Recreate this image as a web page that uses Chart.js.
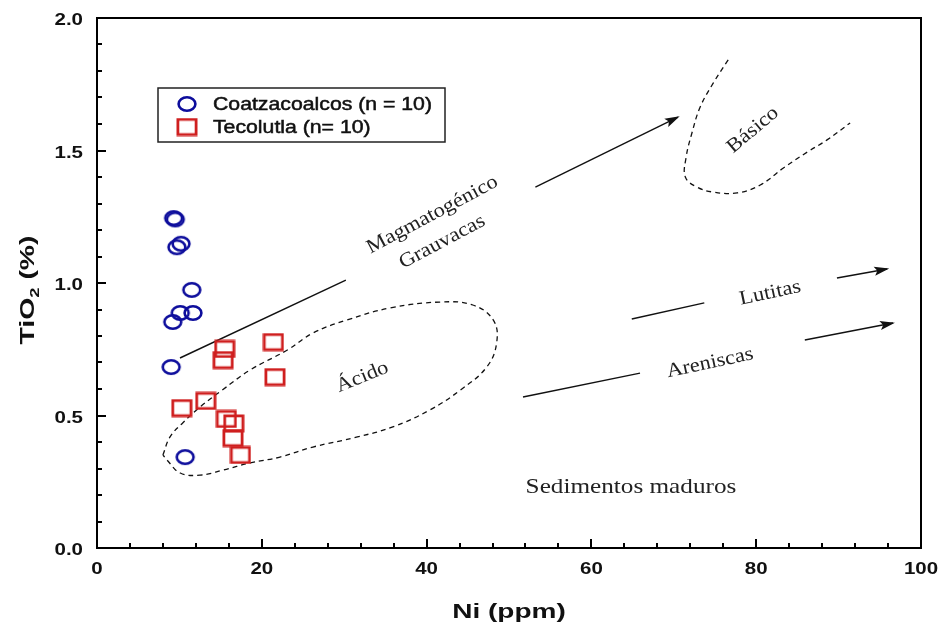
<!DOCTYPE html>
<html>
<head>
<meta charset="utf-8">
<script src="https://cdn.jsdelivr.net/npm/chart.js@4.4.0/dist/chart.umd.min.js"></script>
<style>
html,body{margin:0;padding:0;background:#fff;}
#wrap{width:950px;height:624px;position:relative;}
</style>
</head>
<body>
<div id="wrap"><canvas id="c" width="950" height="624"></canvas></div>
<script>
// ---- Data ----
const seriesNames = ['Coatzacoalcos (n = 10)', 'Tecolutla (n= 10)'];
const coatzNi  = [9.3, 9.5, 10.2, 9.7, 11.5, 11.65, 10.1, 9.2, 9.0, 10.7];
const coatzTi  = [1.245, 1.240, 1.148, 1.135, 0.974, 0.887, 0.887, 0.853, 0.683, 0.343];
const tecoNi   = [15.5, 15.3, 21.4, 21.6, 10.3, 13.2, 15.7, 16.6, 16.5, 17.4];
const tecoTi   = [0.751, 0.709, 0.777, 0.645, 0.528, 0.555, 0.487, 0.470, 0.415, 0.351];

const xTickValues = [0, 20, 40, 60, 80, 100];
const xTickLabels = ['0', '20', '40', '60', '80', '100'];
const yTickValues = [0, 0.5, 1.0, 1.5, 2.0];
const yTickLabels = ['0.0', '0.5', '1.0', '1.5', '2.0'];
const xMinorStep = 4;
const yMinorStep = 0.1;
const xTitle = 'Ni (ppm)';
const yTitleParts = ['TiO', '2', ' (%)'];

// Diagram field boundaries (data coordinates: Ni, TiO2)
const acidoNi = [8.0, 8.86, 10.4, 12.5, 15.2, 18.6, 23.1, 26.2, 30.3, 35.6, 41.6, 45.6, 48.1, 48.5, 47.3, 44.1, 40.4, 35.9, 31.6, 26.2, 22.2, 18.6, 15.3, 12.5, 10.1, 8.5, 8.0];
const acidoTi = [0.351, 0.419, 0.472, 0.532, 0.596, 0.672, 0.747, 0.811, 0.860, 0.906, 0.928, 0.917, 0.860, 0.774, 0.683, 0.596, 0.521, 0.457, 0.419, 0.381, 0.343, 0.321, 0.294, 0.275, 0.283, 0.332, 0.351];
const basicoNi = [76.6, 74.8, 73.2, 72.2, 71.5, 71.4, 72.8, 74.8, 77.7, 80.5, 83.3, 86.2, 88.6, 91.4];
const basicoTi = [1.842, 1.755, 1.664, 1.566, 1.475, 1.400, 1.362, 1.343, 1.340, 1.370, 1.434, 1.494, 1.540, 1.604];

// Trend lines
const trendNames = ['magma1', 'magma2', 'lut1', 'lut2', 'are1', 'are2'];
const trendNi0 = [10.07, 53.2, 64.9, 89.8, 51.7, 85.9];
const trendTi0 = [0.717, 1.362, 0.864, 1.019, 0.570, 0.785];
const trendNi1 = [30.2, 70.5, 73.7, 95.9, 65.9, 96.6];
const trendTi1 = [1.011, 1.626, 0.925, 1.053, 0.660, 0.849];
const trendArrow = [false, true, false, true, false, true];

// Field labels
const labelTexts = ['Magmatogénico', 'Grauvacas', 'Básico', 'Lutitas', 'Areniscas', 'Ácido', 'Sedimentos maduros'];
const labelNi    = [40.7, 41.9, 79.6, 81.7, 74.4, 32.2, 64.8];
const labelTi    = [1.257, 1.155, 1.577, 0.962, 0.698, 0.645, 0.23];
const labelAngle = [-28, -28, -40, -12, -12, -22, 0];
const labelSize  = [20, 20, 20, 20, 20, 20, 21];
const labelStretch = [1.12, 1.12, 1.12, 1.12, 1.12, 1.12, 1.2];

// ---- Marker images ----
function makeCircle() {
  const c = document.createElement('canvas'); c.width = 22; c.height = 18;
  const g = c.getContext('2d');
  g.strokeStyle = '#0d0d9c'; g.lineWidth = 2.6;
  g.beginPath(); g.ellipse(11, 9, 8.4, 6.8, 0, 0, Math.PI * 2); g.stroke();
  return c;
}
function makeSquare() {
  const c = document.createElement('canvas'); c.width = 22; c.height = 19;
  const g = c.getContext('2d');
  g.strokeStyle = '#cf1f1f'; g.lineWidth = 2.8;
  g.strokeRect(1.9, 1.9, 18.2, 15.2);
  return c;
}
const circleImg = makeCircle();
const squareImg = makeSquare();

function pts(xs, ys) { return xs.map((x, i) => ({x: x, y: ys[i]})); }

const datasets = [
  {label: seriesNames[0], data: pts(coatzNi, coatzTi), pointStyle: circleImg, pointRadius: 9, showLine: false, order: 1},
  {label: seriesNames[1], data: pts(tecoNi, tecoTi), pointStyle: squareImg, pointRadius: 9, showLine: false, order: 0},
  {label: 'Ácido', data: pts(acidoNi, acidoTi), showLine: true, pointRadius: 0, borderColor: '#111', borderWidth: 1.3, borderDash: [5, 4], tension: 0.4, fill: false, order: 5},
  {label: 'Básico', data: pts(basicoNi, basicoTi), showLine: true, pointRadius: 0, borderColor: '#111', borderWidth: 1.3, borderDash: [5, 4], tension: 0.4, fill: false, order: 5}
];
trendNames.forEach((n, i) => {
  datasets.push({label: n, data: [{x: trendNi0[i], y: trendTi0[i]}, {x: trendNi1[i], y: trendTi1[i]}], showLine: true, pointRadius: 0, borderColor: '#111', borderWidth: 1.4, fill: false, order: 5});
});

const FONT = 'Arial, "Liberation Sans", sans-serif';
const SERIF = '"Times New Roman", "Liberation Serif", serif';

function stretchText(ctx, text, x, y, sx, rot, align) {
  ctx.save(); ctx.translate(x, y); if (rot) ctx.rotate(rot); ctx.scale(sx, 1);
  ctx.textAlign = align || 'center';
  ctx.fillText(text, 0, 0);
  ctx.restore();
}

const decorPlugin = {
  id: 'decor',
  afterDatasetsDraw(chart) {
    const ctx = chart.ctx, xs = chart.scales.x, ys = chart.scales.y, a = chart.chartArea;
    ctx.save();
    // arrowheads
    ctx.fillStyle = '#111';
    trendNames.forEach((n, i) => {
      if (!trendArrow[i]) return;
      const x0 = xs.getPixelForValue(trendNi0[i]), y0 = ys.getPixelForValue(trendTi0[i]);
      const x1 = xs.getPixelForValue(trendNi1[i]), y1 = ys.getPixelForValue(trendTi1[i]);
      const ang = Math.atan2(y1 - y0, x1 - x0);
      ctx.save(); ctx.translate(x1, y1); ctx.rotate(ang);
      ctx.beginPath(); ctx.moveTo(2, 0); ctx.lineTo(-13, -4.5); ctx.lineTo(-10, 0); ctx.lineTo(-13, 4.5); ctx.closePath(); ctx.fill();
      ctx.restore();
    });
    // field labels
    ctx.fillStyle = '#222';
    ctx.textBaseline = 'middle';
    labelTexts.forEach((t, i) => {
      ctx.font = labelSize[i] + 'px ' + SERIF;
      stretchText(ctx, t, xs.getPixelForValue(labelNi[i]), ys.getPixelForValue(labelTi[i]), labelStretch[i], labelAngle[i] * Math.PI / 180);
    });
    // inward ticks
    ctx.strokeStyle = '#000'; ctx.lineWidth = 2;
    ctx.beginPath();
    for (let k = 0; k * xMinorStep <= 100 + 1e-9; k++) {
      const v = k * xMinorStep;
      const px = Math.round(xs.getPixelForValue(v));
      const major = xTickValues.some(t => Math.abs(t - v) < 1e-6);
      ctx.moveTo(px, a.bottom); ctx.lineTo(px, a.bottom - (major ? 9 : 5));
    }
    for (let k = 0; k <= 20; k++) {
      const v = k * yMinorStep;
      const py = Math.round(ys.getPixelForValue(v));
      const major = yTickValues.some(t => Math.abs(t - v) < 1e-6);
      ctx.moveTo(a.left, py); ctx.lineTo(a.left + (major ? 9 : 5), py);
    }
    ctx.stroke();
    // frame
    ctx.lineWidth = 2;
    ctx.strokeRect(a.left, a.top, a.right - a.left, a.bottom - a.top);
    // tick labels
    ctx.fillStyle = '#111';
    ctx.font = 'bold 16px ' + FONT;
    ctx.textBaseline = 'alphabetic';
    xTickValues.forEach((v, i) => stretchText(ctx, xTickLabels[i], xs.getPixelForValue(v), a.bottom + 26, 1.28, 0, 'center'));
    yTickValues.forEach((v, i) => stretchText(ctx, yTickLabels[i], a.left - 14, ys.getPixelForValue(v) + 7, 1.28, 0, 'right'));
    // axis titles
    ctx.font = 'bold 20px ' + FONT;
    stretchText(ctx, xTitle, (a.left + a.right) / 2, 618, 1.4, 0, 'center');
    // y title with subscript
    ctx.save();
    ctx.translate(34, 290); ctx.rotate(-Math.PI / 2); ctx.scale(1.42, 1);
    ctx.font = 'bold 20px ' + FONT;
    const w0 = ctx.measureText(yTitleParts[0]).width;
    const w2 = ctx.measureText(yTitleParts[2]).width;
    ctx.font = 'bold 13px ' + FONT;
    const w1 = ctx.measureText(yTitleParts[1]).width;
    let sx = -(w0 + w1 + w2) / 2;
    ctx.textAlign = 'left';
    ctx.font = 'bold 20px ' + FONT;
    ctx.fillText(yTitleParts[0], sx, 0);
    ctx.font = 'bold 13px ' + FONT;
    ctx.fillText(yTitleParts[1], sx + w0, 5);
    ctx.font = 'bold 20px ' + FONT;
    ctx.fillText(yTitleParts[2], sx + w0 + w1, 0);
    ctx.restore();
    // legend
    const lx = a.left + 61, ly = a.top + 70, lw = 287, lh = 54;
    ctx.lineWidth = 1.5; ctx.strokeStyle = '#222';
    ctx.strokeRect(lx, ly, lw, lh);
    ctx.font = '18px ' + FONT; ctx.fillStyle = '#111'; ctx.strokeStyle = '#111'; ctx.lineWidth = 0.5;
    ctx.textAlign = 'left'; ctx.textBaseline = 'middle';
    const imgs = [circleImg, squareImg];
    [0, 1].forEach(i => {
      const cy = ly + 16 + i * 23;
      ctx.drawImage(imgs[i], lx + 29 - imgs[i].width / 2, cy - imgs[i].height / 2);
      ctx.save(); ctx.translate(lx + 55, cy + 1); ctx.scale(1.18, 1);
      ctx.fillText(chart.data.datasets[i].label, 0, 0);
      ctx.strokeText(chart.data.datasets[i].label, 0, 0);
      ctx.restore();
    });
    ctx.restore();
  }
};

new Chart(document.getElementById('c'), {
  type: 'scatter',
  data: {datasets: datasets},
  options: {
    responsive: false,
    animation: false,
    devicePixelRatio: 1,
    layout: {padding: {top: 18, right: 29, left: 0, bottom: 0}},
    plugins: {legend: {display: false}, tooltip: {enabled: false}},
    scales: {
      x: {
        type: 'linear', min: 0, max: 100,
        afterBuildTicks: s => { s.ticks = xTickValues.map(v => ({value: v})); },
        afterFit: s => { s.height = 76; },
        ticks: {display: false},
        grid: {display: true, drawOnChartArea: false, drawTicks: false},
        border: {display: true, color: '#000', width: 2}
      },
      y: {
        type: 'linear', min: 0, max: 2,
        afterBuildTicks: s => { s.ticks = yTickValues.map(v => ({value: v})); },
        afterFit: s => { s.width = 97; },
        ticks: {display: false},
        grid: {display: true, drawOnChartArea: false, drawTicks: false},
        border: {display: true, color: '#000', width: 2}
      }
    }
  },
  plugins: [decorPlugin]
});
</script>
</body>
</html>
